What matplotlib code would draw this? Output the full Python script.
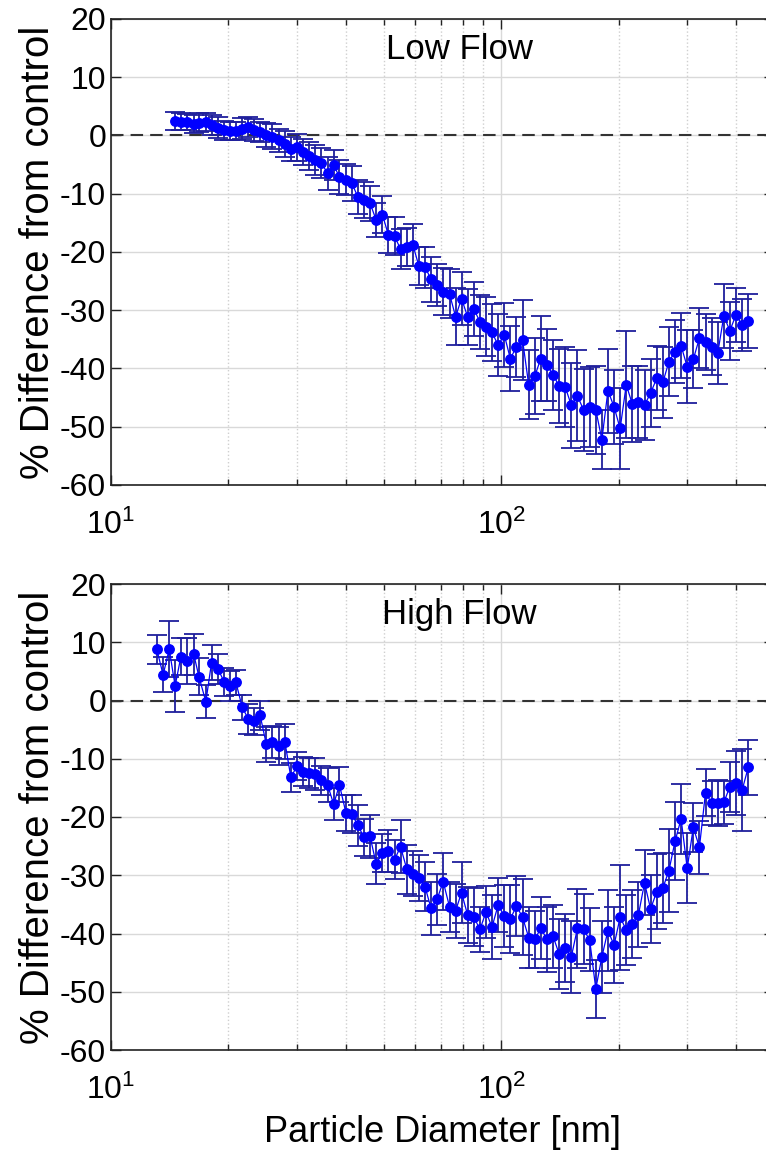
import numpy as np
import matplotlib.pyplot as plt
from matplotlib.ticker import LogLocator, NullFormatter, MultipleLocator

plt.rcParams['font.family'] = ['Liberation Sans', 'DejaVu Sans']
plt.rcParams['axes.unicode_minus'] = False

# particle diameter bins [nm]
diam_low = [14.6, 15.1, 15.7, 16.3, 16.8, 17.5, 18.1, 18.8, 19.5, 20.2,
            20.9, 21.7, 22.5, 23.3, 24.1, 25.0, 25.9, 26.9, 27.9, 28.9,
            30.0, 31.1, 32.2, 33.4, 34.6, 35.9, 37.2, 38.5, 40.0, 41.4,
            42.9, 44.5, 46.1, 47.8, 49.6, 51.4, 53.3, 55.2, 57.3, 59.4,
            61.5, 63.8, 66.1, 68.5, 71.0, 73.7, 76.4, 79.1, 82.0, 85.1,
            88.2, 91.4, 94.7, 98.2, 101.8, 105.5, 109.4, 113.4, 117.6, 121.9,
            126.3, 131.0, 135.8, 140.7, 145.9, 151.2, 156.8, 162.5, 168.5, 174.7,
            181.1, 187.7, 194.6, 201.7, 209.1, 216.7, 224.7, 232.9, 241.4, 250.3,
            259.5, 269.0, 278.8, 289.0, 299.6, 310.6, 322.0, 333.8, 346.0, 358.7,
            371.8, 385.4, 399.5, 414.2, 429.4]

low_mean = [2.5, 2.4, 2.3, 2.0, 2.2, 2.3, 1.8, 1.3, 0.9, 0.8,
            0.8, 1.2, 1.4, 1.0, 0.6, 0.1, -0.2, -0.8, -1.5, -2.3,
            -2.0, -2.8, -3.5, -4.2, -4.7, -6.5, -5.1, -7.1, -7.6, -8.2,
            -10.5, -11.1, -11.6, -14.5, -13.6, -17.1, -17.3, -19.5, -19.1, -18.8,
            -22.4, -22.6, -24.7, -25.6, -26.8, -27.2, -31.1, -28.0, -31.1, -29.8,
            -32.0, -32.8, -33.8, -36.0, -34.2, -38.3, -36.3, -35.1, -42.8, -41.3,
            -38.3, -39.4, -41.1, -43.0, -43.2, -46.3, -44.7, -47.1, -46.6, -47.1,
            -52.2, -43.8, -46.6, -50.3, -42.8, -46.1, -45.7, -46.3, -44.2, -41.7,
            -42.4, -38.8, -37.1, -36.1, -39.7, -38.4, -34.8, -35.4, -36.3, -37.4,
            -31.0, -33.5, -30.8, -32.5, -31.8]

low_err = [1.5, 1.5, 1.4, 1.5, 1.6, 1.5, 1.7, 1.8, 1.6, 1.5,
           1.6, 1.8, 1.7, 1.9, 1.8, 2.0, 2.1, 2.0, 2.2, 2.1,
           2.3, 2.2, 2.4, 2.5, 2.6, 2.8, 2.6, 2.9, 2.7, 3.0,
           2.9, 3.1, 3.0, 2.9, 3.2, 3.1, 3.3, 3.4, 3.3, 3.6,
           3.3, 3.5, 3.8, 3.6, 4.0, 4.2, 4.9, 4.5, 4.8, 4.6,
           4.7, 5.0, 4.9, 5.3, 5.5, 5.6, 5.2, 6.8, 5.9, 6.5,
           7.3, 6.2, 6.0, 6.4, 6.9, 7.3, 7.8, 7.0, 6.8, 7.5,
           5.0, 7.2, 6.4, 6.9, 9.2, 6.6, 6.2, 6.0, 5.8, 5.5,
           6.1, 5.9, 5.4, 5.6, 6.3, 5.0, 5.2, 4.8, 4.9, 5.3,
           5.5, 5.0, 4.7, 4.5, 4.6]

diam_high = [13.1, 13.6, 14.1,
             14.6, 15.1, 15.7, 16.3, 16.8, 17.5, 18.1, 18.8, 19.5, 20.2,
             20.9, 21.7, 22.5, 23.3, 24.1, 25.0, 25.9, 26.9, 27.9, 28.9,
             30.0, 31.1, 32.2, 33.4, 34.6, 35.9, 37.2, 38.5, 40.0, 41.4,
             42.9, 44.5, 46.1, 47.8, 49.6, 51.4, 53.3, 55.2, 57.3, 59.4,
             61.5, 63.8, 66.1, 68.5, 71.0, 73.7, 76.4, 79.1, 82.0, 85.1,
             88.2, 91.4, 94.7, 98.2, 101.8, 105.5, 109.4, 113.4, 117.6, 121.9,
             126.3, 131.0, 135.8, 140.7, 145.9, 151.2, 156.8, 162.5, 168.5, 174.7,
             181.1, 187.7, 194.6, 201.7, 209.1, 216.7, 224.7, 232.9, 241.4, 250.3,
             259.5, 269.0, 278.8, 289.0, 299.6, 310.6, 322.0, 333.8, 346.0, 358.7,
             371.8, 385.4, 399.5, 414.2, 429.4]

high_mean = [8.8, 4.4, 8.8, 2.5, 7.5, 6.8, 7.9, 4.1, -0.2, 6.5,
             5.4, 3.2, 2.5, 3.1, -1.2, -3.2, -3.6, -2.5, -7.5, -7.1,
             -7.8, -7.1, -13.2, -11.2, -12.2, -12.5, -12.6, -13.7, -14.5, -17.8,
             -14.5, -19.3, -19.5, -21.4, -23.5, -23.3, -28.0, -26.2, -25.8, -27.3,
             -25.1, -29.0, -29.7, -30.5, -32.0, -35.7, -34.1, -31.1, -35.4, -36.1,
             -33.0, -36.8, -37.2, -39.3, -36.3, -38.9, -35.1, -37.0, -37.5, -35.3,
             -37.2, -40.7, -41.0, -39.1, -41.0, -40.5, -43.5, -42.5, -44.0, -39.1,
             -39.3, -41.1, -49.5, -44.0, -39.5, -42.0, -37.2, -39.4, -38.4, -36.8,
             -31.3, -35.8, -32.8, -32.2, -29.2, -24.2, -20.3, -28.8, -21.8, -25.2,
             -15.8, -17.6, -17.6, -17.5, -14.8, -14.2, -15.4, -11.5]

high_err = [2.5, 3.0, 4.8, 4.5, 3.2, 4.0, 3.5, 3.2, 2.8, 3.0,
            2.6, 2.4, 2.5, 2.2, 2.1, 2.6, 2.3, 2.5, 3.0, 2.8,
            3.2, 3.0, 2.5, 2.4, 2.5, 2.6, 2.8, 2.5, 2.9, 2.7,
            3.0, 3.1, 3.3, 3.5, 3.2, 3.7, 3.5, 3.3, 3.6, 3.4,
            4.5, 4.2, 3.8, 4.0, 4.2, 4.6, 4.4, 4.9, 4.3, 4.6,
            5.2, 4.8, 5.0, 3.9, 4.5, 5.5, 4.6, 5.3, 5.8, 5.2,
            6.5, 5.2, 4.9, 5.3, 5.6, 5.4, 6.0, 5.8, 6.2, 6.8,
            6.0, 5.4, 5.0, 6.2, 7.0, 6.5, 9.0, 6.0, 5.8, 5.6,
            5.6, 5.9, 6.4, 6.0, 7.1, 6.7, 6.0, 6.0, 4.2, 4.5,
            4.0, 3.8, 3.9, 3.7, 4.3, 5.5, 7.0, 4.8]

panels = [(diam_low, low_mean, low_err, 'Low Flow', 485),
          (diam_high, high_mean, high_err, 'High Flow', 1050)]

W, H = 766, 1156
fig = plt.figure(figsize=(W / 100, H / 100), dpi=100)

for i, (d, m, e, name, ybot) in enumerate(panels):
    ax = fig.add_axes([111 / W, 1 - ybot / H, 663 / W, 466 / H])
    ax.set_axisbelow(True)
    ax.grid(which='major', color='#d9d9d9', lw=1.0, ls='-')
    ax.grid(which='minor', axis='x', color='#cfcfcf', lw=1.0, ls=':')
    ax.axhline(0, color='#333333', ls=(0, (6, 3.4)), lw=1.5, zorder=1.5)
    ax.errorbar(d, m, yerr=e, fmt='o-', color='#0000ff', ms=6.8,
                mfc='#0000ff', mec='#0000ff', lw=0.9,
                ecolor='#1f1f9c', elinewidth=1.3, capsize=7.5, capthick=1.3,
                zorder=3)
    ax.set_xscale('log')
    ax.set_xlim(10, 500)
    ax.set_ylim(-60, 20)
    ax.yaxis.set_major_locator(MultipleLocator(10))
    ax.xaxis.set_minor_locator(LogLocator(base=10, subs=np.arange(2, 10)))
    ax.xaxis.set_minor_formatter(NullFormatter())
    ax.tick_params(which='both', direction='in', top=True, right=True,
                   labelsize=23, width=1.0, color='#222222')
    ax.tick_params(which='major', length=7)
    ax.tick_params(which='minor', length=4)
    ax.tick_params(axis='x', pad=18)
    for s in ax.spines.values():
        s.set_color('#222222')
        s.set_linewidth(1.2)
    ax.set_ylabel('% Difference from control', fontsize=29, labelpad=2)
    ax.text(0.525, 0.935, name, transform=ax.transAxes, fontsize=25,
            ha='center', va='center')
    if i == 1:
        ax.set_xlabel('Particle Diameter [nm]', fontsize=26, labelpad=6)

fig.savefig('out.png', dpi=100)
